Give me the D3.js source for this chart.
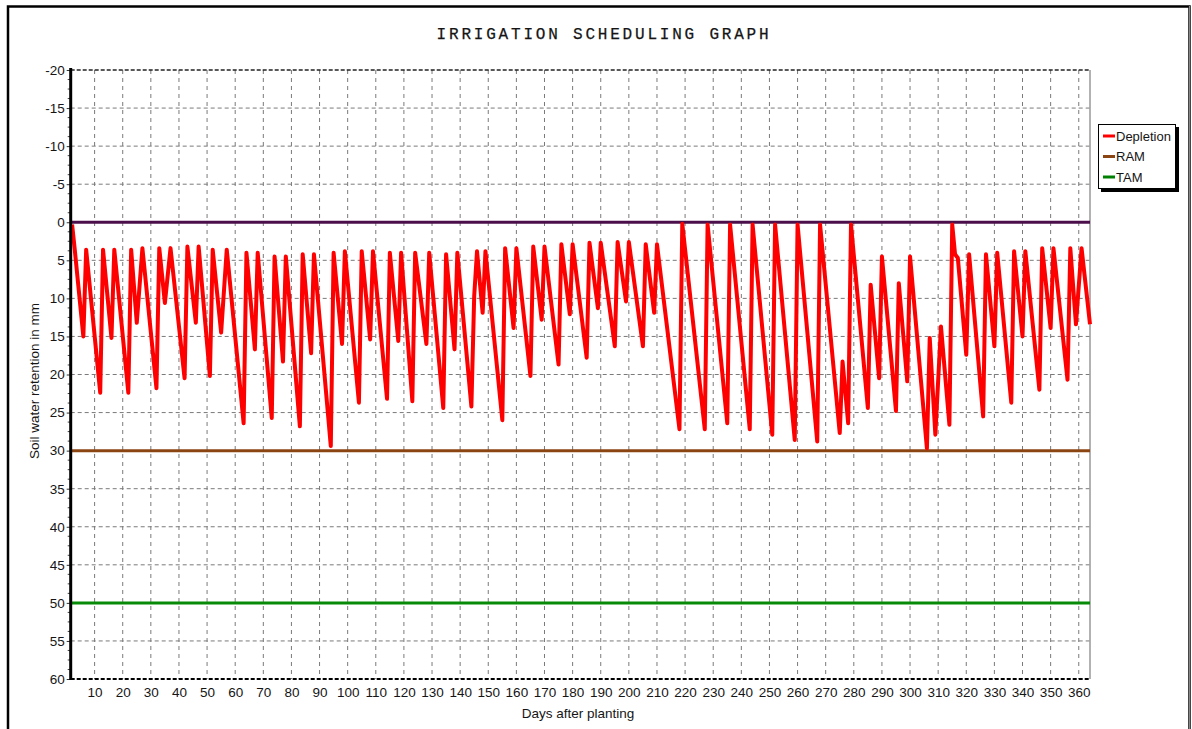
<!DOCTYPE html>
<html>
<head>
<meta charset="utf-8">
<script src="https://cdn.jsdelivr.net/npm/d3@7"></script>
<style>
  html, body { margin: 0; padding: 0; background: #fff; }
  svg { display: block; }
  text { font-family: Arial, "Liberation Sans", sans-serif; fill: #151515; }
</style>
</head>
<body>
<svg id="chart" width="1192" height="729"></svg>
<script>
// ---------------- data ----------------
const title = "IRRIGATION SCHEDULING GRAPH";
const xLabel = "Days after planting";
const yLabel = "Soil water retention in mm";

const depletionDays = [
  2, 3, 6, 7, 12, 13, 16, 17, 22, 23, 25, 27, 32, 33, 35, 37, 42, 43, 46, 47,
  51, 52, 55, 57, 63, 64, 67, 68, 73, 74, 77, 78, 83, 84, 87, 88, 94, 95, 98, 99,
  104, 105, 108, 109, 114, 115, 118, 119, 123, 124, 128, 129, 134, 135, 138, 139,
  144, 145, 146, 148, 149, 155, 156, 159, 160, 165, 166, 169, 170, 175, 176, 179, 180,
  185, 186, 189, 190, 195, 196, 199, 200, 205, 206, 209, 210, 218, 219, 227, 228,
  235, 236, 243, 244, 251, 252, 259, 260, 267, 268, 275, 276, 278, 279,
  285, 286, 289, 290, 295, 296, 299, 300, 306, 307, 309, 311, 314, 315, 316, 317,
  320, 321, 326, 327, 330, 331, 336, 337, 340, 341, 346, 347, 350, 351, 356, 357,
  359, 361, 364
];
const depletionValues = [
  0.3, 3.8, 15.0, 3.6, 22.4, 3.6, 15.2, 3.6, 22.4, 3.6, 13.2, 3.4, 21.8, 3.4, 10.6, 3.4, 20.5, 3.2, 13.2, 3.2,
  20.2, 3.6, 14.5, 3.6, 26.4, 4.0, 16.7, 4.0, 25.7, 4.5, 18.3, 4.5, 26.8, 4.2, 17.2, 4.2, 29.4, 4.0, 16.0, 3.8,
  23.7, 3.8, 15.4, 3.8, 23.2, 4.0, 15.6, 4.0, 23.5, 4.0, 16.0, 4.0, 24.4, 4.2, 16.7, 4.0,
  24.2, 9.7, 3.8, 11.9, 3.8, 26.0, 3.4, 13.9, 3.4, 20.2, 3.2, 12.8, 3.2, 18.7, 2.9, 12.1, 2.9,
  17.8, 2.7, 11.3, 2.7, 16.3, 2.6, 10.4, 2.6, 16.3, 2.9, 11.9, 2.9, 27.2, 0.2, 27.2, 0.3,
  26.4, 0.3, 27.2, 0.3, 27.9, 0.3, 28.6, 0.3, 28.8, 0.3, 27.7, 18.3, 26.4, 0.3,
  24.4, 8.2, 20.5, 4.5, 24.8, 8.0, 20.9, 4.5, 29.7, 15.2, 27.9, 13.7, 26.6, 0.3, 4.2, 4.7,
  17.4, 4.2, 25.5, 4.2, 16.3, 4.0, 23.7, 3.8, 15.0, 3.8, 22.0, 3.4, 13.9, 3.4, 20.7, 3.4,
  13.4, 3.4, 13.4
];

const fieldCapacity = 0;   // purple reference line
const ramValue = 30;       // RAM
const tamValue = 50;       // TAM

const xTicks = [10, 20, 30, 40, 50, 60, 70, 80, 90, 100, 110, 120, 130, 140, 150, 160, 170, 180,
  190, 200, 210, 220, 230, 240, 250, 260, 270, 280, 290, 300, 310, 320, 330, 340, 350, 360];
const yTicks = [-20, -15, -10, -5, 0, 5, 10, 15, 20, 25, 30, 35, 40, 45, 50, 55, 60];

const legendNames = ["Depletion", "RAM", "TAM"];
const legendColors = ["#ff0000", "#8b4513", "#008000"];

// ---------------- layout ----------------
const svg = d3.select("#chart");
const W = 1192, H = 729;
const plot = { left: 70.7, right: 1090, top: 70, bottom: 679 };

const x = d3.scaleLinear().domain([1.5, 364]).range([plot.left, plot.right]);
const y = d3.scaleLinear().domain([-20, 60]).range([plot.top, plot.bottom]);

svg.append("rect").attr("width", W).attr("height", H).attr("fill", "#fff");

// outer frame
svg.append("path")
  .attr("d", `M8,${H + 5} L8,6.5 L1189.5,6.5 L1189.5,${H + 5}`)
  .attr("fill", "none").attr("stroke", "#000").attr("stroke-width", 2.5);
svg.append("line").attr("x1", 1189.5).attr("x2", 1189.5).attr("y1", 6).attr("y2", H)
  .attr("stroke", "#888").attr("stroke-width", 1.2);

// title
svg.append("text")
  .attr("x", 604).attr("y", 39)
  .attr("text-anchor", "middle")
  .style("font-family", "'Liberation Mono', 'Courier New', monospace")
  .style("font-size", "16px")
  .style("letter-spacing", "2.8px")
  .style("font-weight", "500")
  .style("stroke", "#151515").style("stroke-width", "0.25px")
  .text(title);

// grid
const grid = svg.append("g");
grid.selectAll(".vg").data(xTicks).join("line")
  .attr("x1", d => x(d)).attr("x2", d => x(d))
  .attr("y1", plot.top).attr("y2", plot.bottom)
  .attr("stroke", "#7a7a7a").attr("stroke-width", 1).attr("stroke-dasharray", "4,4");
grid.selectAll(".hg").data(yTicks.filter(d => d > -20 && d < 60)).join("line")
  .attr("x1", plot.left).attr("x2", plot.right)
  .attr("y1", d => y(d)).attr("y2", d => y(d))
  .attr("stroke", "#7a7a7a").attr("stroke-width", 1).attr("stroke-dasharray", "4,3");

// plot borders
svg.append("line").attr("x1", plot.left).attr("x2", plot.right).attr("y1", plot.top).attr("y2", plot.top)
  .attr("stroke", "#222").attr("stroke-width", 1.5).attr("stroke-dasharray", "4,2");
svg.append("line").attr("x1", plot.left).attr("x2", plot.right).attr("y1", plot.bottom).attr("y2", plot.bottom)
  .attr("stroke", "#000").attr("stroke-width", 2.2).attr("stroke-dasharray", "4,2");
svg.append("line").attr("x1", plot.right).attr("x2", plot.right).attr("y1", plot.top).attr("y2", plot.bottom)
  .attr("stroke", "#999").attr("stroke-width", 1.5);

// reference lines
const refLine = (v, color) => svg.append("line")
  .attr("x1", plot.left).attr("x2", plot.right)
  .attr("y1", y(v)).attr("y2", y(v))
  .attr("stroke", color).attr("stroke-width", 3);
refLine(fieldCapacity, "#4b0f4b");
refLine(ramValue, "#8b4513");
refLine(tamValue, "#078a07");

// depletion line
const depData = depletionDays.map((d, i) => [d, depletionValues[i]]);
svg.append("path")
  .datum(depData)
  .attr("fill", "none")
  .attr("stroke", "#ff0000")
  .attr("stroke-width", 4)
  .attr("stroke-linejoin", "round")
  .attr("d", d3.line().x(d => x(d[0])).y(d => y(d[1])));

// y axis
const yAxis = d3.axisLeft(y).tickValues(yTicks).tickSize(4).tickPadding(2).tickFormat(d => String(d));
const gy = svg.append("g").attr("transform", `translate(${plot.left},0)`).call(yAxis);
gy.select(".domain").remove();
gy.selectAll(".tick line").attr("stroke", "#333");
gy.selectAll(".tick text").style("font-size", "13.5px").style("font-family", "Arial, 'Liberation Sans', sans-serif").attr("fill", "#151515");
// minor ticks
const minor = d3.range(-20, 60.01, 1.25).filter(v => !yTicks.includes(v));
svg.append("g").selectAll("line").data(minor).join("line")
  .attr("x1", plot.left - 3).attr("x2", plot.left)
  .attr("y1", d => y(d)).attr("y2", d => y(d))
  .attr("stroke", "#444").attr("stroke-width", 1);
svg.append("line").attr("x1", plot.left).attr("x2", plot.left).attr("y1", plot.top - 2).attr("y2", plot.bottom + 1)
  .attr("stroke", "#000").attr("stroke-width", 3);

// x axis
const xAxis = d3.axisBottom(x).tickValues(xTicks).tickSize(0).tickPadding(8).tickFormat(d => String(d));
const gx = svg.append("g").attr("transform", `translate(0,${plot.bottom})`).call(xAxis);
gx.select(".domain").remove();
gx.selectAll(".tick text").style("font-size", "13.5px").style("font-family", "Arial, 'Liberation Sans', sans-serif").attr("fill", "#151515");

// axis titles
svg.append("text")
  .attr("x", 578).attr("y", 718)
  .attr("text-anchor", "middle")
  .style("font-size", "13.5px")
  .text(xLabel);
svg.append("text")
  .attr("transform", `translate(39,${381}) rotate(-90)`)
  .attr("text-anchor", "middle")
  .style("font-size", "13.5px")
  .text(yLabel);

// legend
const lg = svg.append("g");
lg.append("rect").attr("x", 1101).attr("y", 127).attr("width", 78).attr("height", 65).attr("fill", "#000");
lg.append("rect").attr("x", 1098.5).attr("y", 124.5).attr("width", 77).attr("height", 64)
  .attr("fill", "#fff").attr("stroke", "#000").attr("stroke-width", 1);
const items = lg.selectAll(".item").data(legendNames).join("g")
  .attr("transform", (d, i) => `translate(0,${136 + i * 20.5})`);
items.append("line").attr("x1", 1103).attr("x2", 1115).attr("y1", 0).attr("y2", 0)
  .attr("stroke", (d, i) => legendColors[i]).attr("stroke-width", 3);
items.append("text").attr("x", 1116).attr("y", 4.5)
  .style("font-size", "13px")
  .text(d => d);
</script>
</body>
</html>
